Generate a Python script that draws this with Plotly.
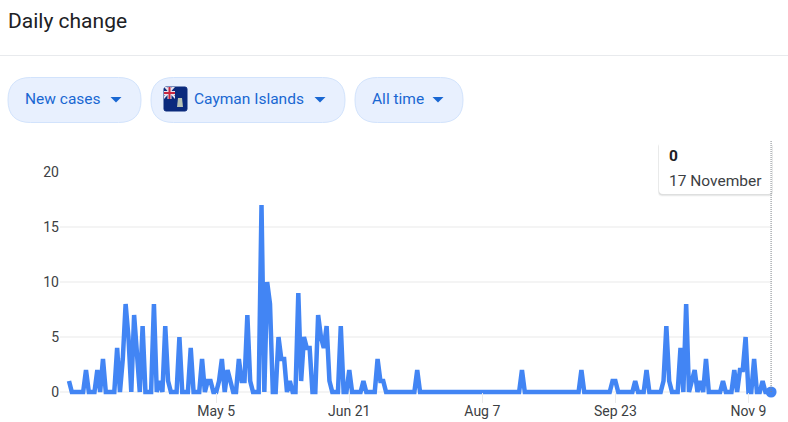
import pandas as pd
import plotly.graph_objects as go

W, H = 788, 422
START_DATE = "2020-03-14"
new_cases = [
    1,0,0,0,0,0,2,0,0,0,
    2,0,3,0,0,0,0,4,0,3,
    8,5,0,7,4,0,6,0,0,0,
    8,0,1,0,6,1,0,0,0,5,
    0,0,0,4,0,0,0,3,0,1,
    1,0,0,1,3,0,2,1,0,0,
    3,1,1,7,1,0,0,0,17,0,
    10,8,0,0,5,3,3,0,1,0,
    0,9,1,5,4,4,0,0,7,5,
    4,6,1,0,0,0,6,0,0,2,
    0,0,0,0,1,0,0,0,0,3,
    1,1,0,0,0,0,0,0,0,0,
    0,0,0,2,0,0,0,0,0,0,
    0,0,0,0,0,0,0,0,0,0,
    0,0,0,0,0,0,0,0,0,0,
    0,0,0,0,0,0,0,0,0,0,
    2,0,0,0,0,0,0,0,0,0,
    0,0,0,0,0,0,0,0,0,0,
    0,2,0,0,0,0,0,0,0,0,
    0,0,1,1,0,0,0,0,0,0,
    1,0,0,0,2,0,0,0,0,0,
    1,6,1,0,0,0,4,0,8,0,
    1,2,0,1,0,3,0,0,0,0,
    0,1,0,0,0,2,0,2,2,5,
    0,0,3,0,0,1,0,0,0,
]
dates = pd.date_range(START_DATE, periods=len(new_cases), freq="D")
x_tick_dates = ["2020-05-05", "2020-06-21", "2020-08-07", "2020-09-23", "2020-11-09"]
x_tick_labels = ["May 5", "Jun 21", "Aug 7", "Sep 23", "Nov 9"]
y_ticks = [0, 5, 10, 15, 20]
chips = [("New cases", 8, 141, 25, 116), ("Cayman Islands", 151, 345, 194, 320), ("All time", 355, 463, 372, 438)]

FONT = "Roboto, Arial, sans-serif"
BLUE = "#4285f4"
CHIP_TEXT = "#1967d2"
px = lambda v: v / W
py = lambda v: 1 - v / H


def rect(x0, y0, x1, y1, **kw):
    return dict(type="rect", xref="paper", yref="paper", x0=px(x0), x1=px(x1), y0=py(y0), y1=py(y1), **kw)


def pill(x0, y0, x1, y1, r, fill, border, lw=1):
    xa, xb, ya, yb = px(x0), px(x1), py(y0), py(y1)
    rx, ry = r / W, r / H
    path = (f"M {xa+rx},{ya} L {xb-rx},{ya} Q {xb},{ya} {xb},{ya-ry} L {xb},{yb+ry} Q {xb},{yb} {xb-rx},{yb} "
            f"L {xa+rx},{yb} Q {xa},{yb} {xa},{yb+ry} L {xa},{ya-ry} Q {xa},{ya} {xa+rx},{ya} Z")
    return dict(type="path", xref="paper", yref="paper", path=path, fillcolor=fill, line=dict(color=border, width=lw))


def poly(points, fill, lw=0, color=None):
    d = "M " + " L ".join(f"{px(a)},{py(b)}" for a, b in points) + " Z"
    return dict(type="path", xref="paper", yref="paper", path=d, fillcolor=fill,
                line=dict(width=lw, color=color or fill))


shapes = [dict(type="line", xref="paper", yref="paper", x0=0, x1=1, y0=py(55.5), y1=py(55.5),
               line=dict(color="#e8eaed", width=1))]
annotations = []


def label(text, x, y, size, color, bold=False):
    annotations.append(dict(text=f"<b>{text}</b>" if bold else text, xref="paper", yref="paper", x=px(x), y=py(y),
                            xanchor="left", yanchor="middle", showarrow=False, borderpad=0, borderwidth=0,
                            font=dict(family=FONT, size=size, color=color)))


label("Daily change", 8, 21, 21, "#202124")
for name, x0, x1, tx, tri in chips:
    shapes.append(pill(x0, 77.5, x1, 122.5, 22.5, "#e8f0fe", "#d2e3fc"))
    label(name, tx, 99.5, 15.5, CHIP_TEXT)
    shapes.append(poly([(tri - 5.5, 97), (tri + 5.5, 97), (tri, 102.5)], CHIP_TEXT))

# flag
shapes.append(pill(164, 87, 187, 111, 2, "#0b2a7d", "#0b2a7d"))
shapes.append(poly([(164, 87), (175, 99), (175, 96), (167, 87)], "#e8e4ee"))
shapes.append(poly([(164, 99), (175, 87), (172, 87), (164, 96)], "#e8e4ee"))
shapes.append(rect(167.5, 87, 171.5, 99, fillcolor="#e8e4ee", line=dict(width=0)))
shapes.append(rect(164, 91, 175, 95, fillcolor="#e8e4ee", line=dict(width=0)))
shapes.append(rect(168.5, 87, 170.5, 99, fillcolor="#c8273f", line=dict(width=0)))
shapes.append(rect(164, 92, 175, 94, fillcolor="#c8273f", line=dict(width=0)))
shapes.append(poly([(178, 98), (182, 98), (183, 107), (177, 107)], "#b9c3b4"))

# tooltip
for grow, alpha in [(2, 0.05), (1, 0.12)]:
    shapes.append(pill(659 - grow / 2, 143, 772 + grow / 2, 194.5 + grow, 4, f"rgba(60,64,67,{alpha})",
                       "rgba(0,0,0,0)", 0))
shapes.append(pill(659, 141, 772, 194, 4, "#ffffff", "#ffffff", 0))
shapes.append(dict(type="line", xref="x", yref="paper", x0=dates[-1], x1=dates[-1], y0=py(141), y1=py(392),
                   line=dict(color="#80868b", width=1, dash="1px,1px")))
label("0", 669, 156, 15.5, "#202124", bold=True)
label("17 November", 669, 180.5, 15.5, "#3c4043")

fig = go.Figure()
fig.add_trace(go.Scatter(x=dates, y=new_cases, mode="lines", line=dict(color=BLUE, width=4.5), hoverinfo="skip",
                         cliponaxis=False))
fig.add_trace(go.Scatter(x=dates[-1:], y=new_cases[-1:], mode="markers", marker=dict(color=BLUE, size=11),
                         hoverinfo="skip", cliponaxis=False))

day_px = 2.831
left, right = 60, 772
x_lo = dates[0] + pd.Timedelta(days=(left - 69) / day_px)
x_hi = dates[0] + pd.Timedelta(days=(right - 69) / day_px)
y_top, y_bot = 172, 403
fig.update_layout(
    width=W, height=H, autosize=False, showlegend=False, margin=dict(l=0, r=0, t=0, b=0, pad=0),
    paper_bgcolor="white", plot_bgcolor="white", font=dict(family=FONT, size=13, color="#3c4043"),
    shapes=shapes, annotations=annotations,
    xaxis=dict(domain=[px(left), px(right)], range=[x_lo, x_hi], tickmode="array", tickvals=x_tick_dates,
               ticktext=x_tick_labels, showgrid=False, zeroline=False, showline=False, ticks="inside", ticklen=10,
               tickcolor="#ebebeb", automargin=False, ticklabelstandoff=-2,
               tickfont=dict(size=14, color="#3c4043", family=FONT)),
    yaxis=dict(domain=[py(y_bot), py(y_top)], range=[-1, 20], tickmode="array", tickvals=y_ticks,
               showgrid=True, gridcolor="#f4f4f4", gridwidth=2, zeroline=False, showline=False, ticks="",
               automargin=False, ticklabelstandoff=0, tickfont=dict(size=14, color="#3c4043", family=FONT),
               anchor="x"),
)
fig.write_html("out.html", config=dict(displayModeBar=False),
               post_script="document.body.style.margin='0';document.body.style.overflow='hidden';")
